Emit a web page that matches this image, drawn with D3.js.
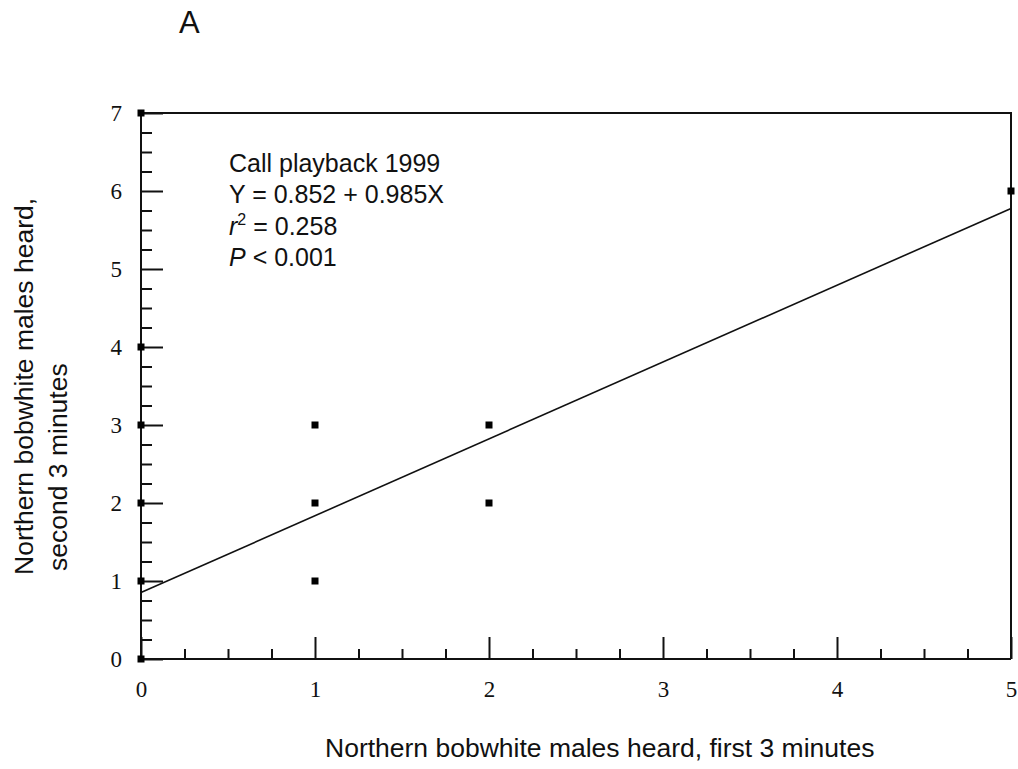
<!DOCTYPE html>
<html><head><meta charset="utf-8">
<script src="https://cdn.jsdelivr.net/npm/d3@7"></script>
<style>body{margin:0;background:#fff}</style>
</head><body>
<script>
const pointX = [0,0,0,0,0,0,1,1,1,2,2,5];
const pointY = [0,1,2,3,4,7,1,2,3,2,3,6];
const intercept = 0.852, slope = 0.985;
const xTicks = [0,1,2,3,4,5];
const yTicks = [0,1,2,3,4,5,6,7];
const annotation = ["Call playback 1999","Y = 0.852 + 0.985X","r","2"," = 0.258","P"," < 0.001"];

const W=1018,H=769;
const svg=d3.select("body").append("svg").attr("width",W).attr("height",H);
const x=d3.scaleLinear().domain([0,5]).range([141,1011]);
const y=d3.scaleLinear().domain([0,7]).range([659,113]);
const minorX=d3.range(0,5.001,0.25).filter(v=>Math.abs(v-Math.round(v))>1e-6);
const minorY=d3.range(0,7.001,0.25).filter(v=>Math.abs(v-Math.round(v))>1e-6);
const serif="'Liberation Serif','Times New Roman',serif";
const ff="'Liberation Sans',Arial,sans-serif";

// frame
svg.append("path").attr("d",`M${x(0)},${y(7)}H${x(5)}V${y(0)}`).attr("fill","none").attr("stroke","#111").attr("stroke-width",2);

function styleAxis(g){g.select(".domain").remove();g.selectAll("line").attr("stroke","#111").attr("stroke-width",2);}
// x axis ticks (upwards)
svg.append("g").attr("transform",`translate(0,${y(0)})`).call(d3.axisTop(x).tickValues(minorX).tickSize(10).tickFormat("")).call(styleAxis);
svg.append("g").attr("transform",`translate(0,${y(0)})`).call(d3.axisTop(x).tickValues(xTicks).tickSize(22).tickFormat("")).call(styleAxis);
svg.append("line").attr("x1",x(0)).attr("x2",x(5)).attr("y1",y(0)).attr("y2",y(0)).attr("stroke","#111").attr("stroke-width",2);
svg.append("g").attr("transform",`translate(0,${y(0)})`).call(d3.axisBottom(x).tickValues(xTicks).tickSize(0).tickPadding(22).tickFormat(d3.format("d")))
 .call(g=>{g.select(".domain").remove();g.selectAll("text").attr("font-family",serif).attr("font-size",23).attr("fill","#111");});
// y axis ticks (rightwards)
svg.append("g").attr("transform",`translate(${x(0)},0)`).call(d3.axisRight(y).tickValues(minorY).tickSize(11).tickFormat("")).call(styleAxis);
svg.append("g").attr("transform",`translate(${x(0)},0)`).call(d3.axisRight(y).tickValues(yTicks).tickSize(22).tickFormat("")).call(styleAxis);
svg.append("line").attr("x1",x(0)).attr("x2",x(0)).attr("y1",y(0)).attr("y2",y(7)).attr("stroke","#111").attr("stroke-width",2);
svg.append("g").attr("transform",`translate(${x(0)},0)`).call(d3.axisLeft(y).tickValues(yTicks).tickSize(0).tickPadding(19).tickFormat(d3.format("d")))
 .call(g=>{g.select(".domain").remove();g.selectAll("text").attr("font-family",serif).attr("font-size",23).attr("fill","#111");});

// regression line
svg.append("line").attr("x1",x(0)).attr("y1",y(intercept)).attr("x2",x(5)).attr("y2",y(intercept+slope*5))
 .attr("stroke","#111").attr("stroke-width",1.6);

// points
svg.append("g").selectAll("rect").data(pointX.map((d,i)=>[d,pointY[i]])).join("rect")
 .attr("x",d=>x(d[0])-3.5).attr("y",d=>y(d[1])-3.5).attr("width",7).attr("height",7).attr("fill","#000");

// annotation
const ann=svg.append("g").attr("font-family",ff).attr("font-size",25).attr("fill","#111");
const ax=229, ay=[172,203,235,266];
ann.append("text").attr("x",ax).attr("y",ay[0]).text(annotation[0]);
ann.append("text").attr("x",ax).attr("y",ay[1]).text(annotation[1]);
const t3=ann.append("text").attr("x",ax).attr("y",ay[2]);
t3.append("tspan").attr("font-style","italic").text(annotation[2]);
t3.append("tspan").attr("dy",-10).attr("font-size",16).text(annotation[3]);
t3.append("tspan").attr("dy",10).text(annotation[4]);
const t4=ann.append("text").attr("x",ax).attr("y",ay[3]);
t4.append("tspan").attr("font-style","italic").text(annotation[5]);
t4.append("tspan").text(annotation[6]);

// titles
svg.append("text").attr("x",179).attr("y",33).attr("font-family",ff).attr("font-size",31).attr("fill","#111").text("A");
svg.append("text").attr("x",325).attr("y",757).attr("font-family",ff).attr("font-size",26.5).attr("fill","#111")
 .text("Northern bobwhite males heard, first 3 minutes");
const yt=svg.append("text").attr("transform","translate(0,575) rotate(-90)").attr("font-family",ff).attr("font-size",26.5).attr("fill","#111");
yt.append("tspan").attr("x",0).attr("y",33).text("Northern bobwhite males heard,");
yt.append("tspan").attr("x",4).attr("y",67).text("second 3 minutes");
</script>
</body></html>
